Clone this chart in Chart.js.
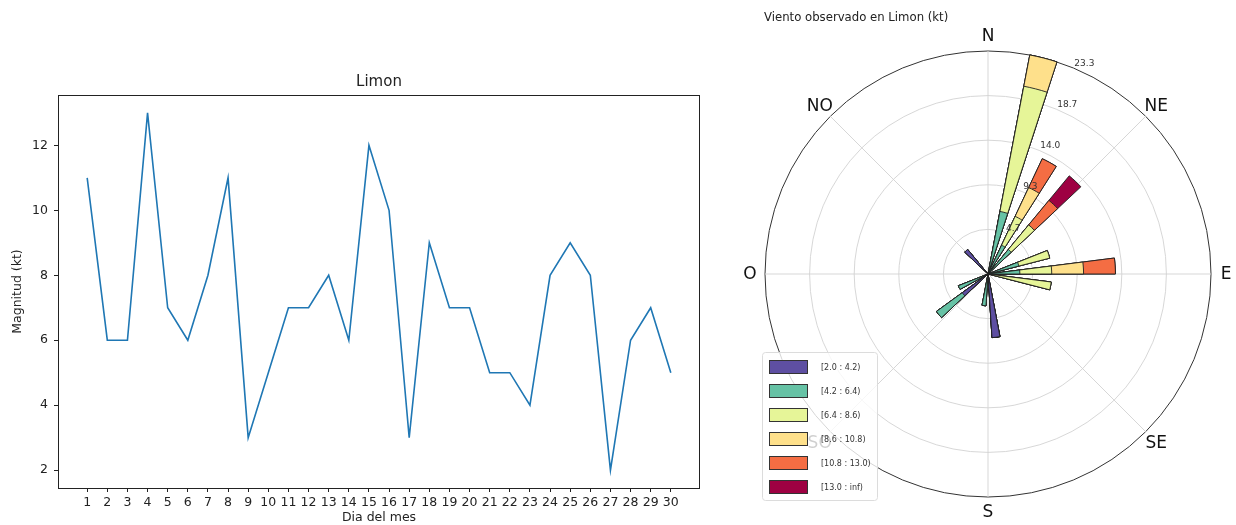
<!DOCTYPE html>
<html>
<head>
<meta charset="utf-8">
<script src="https://cdn.jsdelivr.net/npm/chart.js@4.4.0/dist/chart.umd.min.js"></script>
<style>
  body { margin: 0; background: #fff; }
  #wrap { position: relative; width: 1236px; height: 525px; }
  #lineChart { position: absolute; left: 0; top: 0; }
  #roseChart { position: absolute; left: 740px; top: 0; }
</style>
</head>
<body>
<div id="wrap">
  <canvas id="lineChart" width="740" height="525"></canvas>
  <canvas id="roseChart" width="496" height="525"></canvas>
</div>
<script>
// --- serie diaria (izquierda)
const days = [1,2,3,4,5,6,7,8,9,10,11,12,13,14,15,16,17,18,19,20,21,22,23,24,25,26,27,28,29,30];
const magnitud = [11,6,6,13,7,6,8,11,3,5,7,7,8,6,12,10,3,9,7,7,5,5,4,8,9,8,2,6,7,5];
const yTicks = [2,4,6,8,10,12];

// --- rosa de viento (derecha): dias por sector de direccion y por clase de velocidad
const nSectors = 25;
const speedBins = ['[2.0 : 4.2)', '[4.2 : 6.4)', '[6.4 : 8.6)', '[8.6 : 10.8)', '[10.8 : 13.0)', '[13.0 : inf)'];
const binColors = ['#5e4fa2', '#66c2a5', '#e6f598', '#fee08b', '#f46d43', '#9e0142'];
//  sector:    0 1 2 3 4 5 6 7 8 9 0 1 2 3 4 5 6 7 8 9 0 1 2 3 4
const bin1 = [0,0,0,0,0,0,0,0,0,0,0,0,2,0,0,0,1,0,0,0,0,0,1,0,0];
const bin2 = [0,2,1,1,0,1,1,0,0,0,0,0,0,1,0,0,1,1,0,0,0,0,0,0,0];
const bin3 = [0,4,1,1,0,1,1,2,0,0,0,0,0,0,0,0,0,0,0,0,0,0,0,0,0];
const bin4 = [0,1,1,0,0,0,1,0,0,0,0,0,0,0,0,0,0,0,0,0,0,0,0,0,0];
const bin5 = [0,0,1,1,0,0,1,0,0,0,0,0,0,0,0,0,0,0,0,0,0,0,0,0,0];
const bin6 = [0,0,0,1,0,0,0,0,0,0,0,0,0,0,0,0,0,0,0,0,0,0,0,0,0];
const compassLabels = ['N', 'NE', 'E', 'SE', 'S', 'SO', 'O', 'NO'];

const FONT = 'DejaVu Sans';

// ---------------- line chart
const framePlugin = {
  id: 'frame',
  afterDraw(chart) {
    const a = chart.chartArea, ctx = chart.ctx;
    ctx.save();
    ctx.strokeStyle = '#222';
    ctx.lineWidth = 1;
    ctx.strokeRect(Math.round(a.left) + 0.5, Math.round(a.top) + 0.5,
      Math.round(a.right - a.left) - 1, Math.round(a.bottom - a.top));
    ctx.restore();
  }
};

new Chart(document.getElementById('lineChart'), {
  type: 'line',
  data: {
    datasets: [{
      data: days.map((d, i) => ({ x: d, y: magnitud[i] })),
      borderColor: '#1f77b4',
      borderWidth: 1.6,
      pointRadius: 0,
      tension: 0,
      fill: false
    }]
  },
  options: {
    responsive: false,
    animation: false,
    devicePixelRatio: 1,
    layout: { padding: { left: 0, right: 40, top: 0, bottom: 0 } },
    plugins: {
      legend: { display: false },
      tooltip: { enabled: false },
      title: {
        display: true, text: 'Limon', fullSize: false, color: '#222',
        font: { family: FONT, size: 15, weight: 'normal' },
        padding: { top: 73, bottom: 4 }
      }
    },
    scales: {
      x: {
        type: 'linear', min: -0.45, max: 31.45,
        afterBuildTicks: s => { s.ticks = days.map(d => ({ value: d })); },
        afterFit: s => { s.height = 37; },
        grid: { drawOnChartArea: false, drawTicks: true, tickLength: 4, color: '#222' },
        border: { display: false },
        ticks: { autoSkip: false, maxRotation: 0, padding: 3, color: '#222', font: { family: FONT, size: 12.5 } },
        title: { display: true, text: 'Dia del mes', color: '#222', font: { family: FONT, size: 12.5 }, padding: { top: 0, bottom: 0 } }
      },
      y: {
        type: 'linear', min: 1.45, max: 13.55,
        afterBuildTicks: s => { s.ticks = yTicks.map(v => ({ value: v })); },
        afterFit: s => { s.width = 58; },
        grid: { drawOnChartArea: false, drawTicks: true, tickLength: 4, color: '#222' },
        border: { display: false },
        ticks: { padding: 6, color: '#222', font: { family: FONT, size: 12.5 } },
        title: { display: true, text: 'Magnitud (kt)', color: '#222', font: { family: FONT, size: 12.5 }, padding: { top: 10.5, bottom: 0 } }
      }
    }
  },
  plugins: [framePlugin]
});

// ---------------- wind rose
const bins = [bin1, bin2, bin3, bin4, bin5, bin6];
const totalObs = bins.reduce((s, b) => s + b.reduce((a, v) => a + v, 0), 0);
const cumulative = [];
bins.forEach((b, j) => {
  cumulative.push(b.map((v, k) => v * 100 / totalObs + (j > 0 ? cumulative[j - 1][k] : 0)));
});
const rMax = Math.max(...cumulative[cumulative.length - 1]);
const sectorAngle = 360 / nSectors;

// each sector = one bar slice + one empty gap slice (bar opening 0.5)
const sliceLabels = [];
for (let k = 0; k < nSectors * 2; k++) sliceLabels.push('');

// datasets drawn last-index first, so the smallest cumulative ends on top
const roseDatasets = cumulative.map((cum, j) => ({
  label: speedBins[j],
  data: sliceLabels.map((_, i) => (i % 2 === 0 ? cum[i / 2] : 0)),
  backgroundColor: binColors[j],
  borderColor: '#1e1e1e',
  borderWidth: ctx => (ctx.raw > 0 ? 0.9 : 0)
}));

const rosePlugin = {
  id: 'rose',
  beforeDatasetsDraw(chart) {
    const s = chart.scales.r, ctx = chart.ctx;
    ctx.save();
    ctx.strokeStyle = '#d2d2d2';
    ctx.lineWidth = 0.9;
    for (let i = 0; i < 8; i++) {
      const a = i * Math.PI / 4;
      ctx.beginPath();
      ctx.moveTo(s.xCenter, s.yCenter);
      ctx.lineTo(s.xCenter + s.drawingArea * Math.sin(a), s.yCenter - s.drawingArea * Math.cos(a));
      ctx.stroke();
    }
    ctx.restore();
  },
  afterDatasetsDraw(chart) {
    const s = chart.scales.r, ctx = chart.ctx;
    ctx.save();
    // radial tick labels along 22.5 deg
    const la = 22.5 * Math.PI / 180;
    ctx.font = '9px "' + FONT + '"';
    ctx.fillStyle = '#333';
    ctx.textAlign = 'left';
    ctx.textBaseline = 'bottom';
    s.ticks.forEach((t, i) => {
      if (i === 0) return;
      const r = s.getDistanceFromCenterForValue(t.value);
      ctx.fillText(t.value.toFixed(1), s.xCenter + r * Math.sin(la) + 1, s.yCenter - r * Math.cos(la));
    });
    // compass labels
    ctx.font = '17px "' + FONT + '"';
    ctx.fillStyle = '#111';
    ctx.textAlign = 'center';
    ctx.textBaseline = 'middle';
    compassLabels.forEach((lab, i) => {
      const a = i * Math.PI / 4;
      const r = s.drawingArea + 15;
      ctx.fillText(lab, s.xCenter + r * Math.sin(a), s.yCenter - r * Math.cos(a) + 1);
    });
    ctx.restore();
  },
  afterDraw(chart) {
    const ctx = chart.ctx;
    const x0 = 22, y0 = 352, w = 115, h = 148;
    ctx.save();
    ctx.fillStyle = 'rgba(255,255,255,0.8)';
    ctx.strokeStyle = '#dcdcdc';
    ctx.lineWidth = 1;
    ctx.beginPath();
    ctx.roundRect(x0 + 0.5, y0 + 0.5, w, h, 3);
    ctx.fill();
    ctx.stroke();
    ctx.font = '8px "' + FONT + '"';
    ctx.textAlign = 'left';
    ctx.textBaseline = 'middle';
    chart.data.datasets.forEach((ds, j) => {
      const cy = 367 + j * 24;
      ctx.fillStyle = ds.backgroundColor;
      ctx.fillRect(29, cy - 6.5, 39, 13);
      ctx.strokeStyle = '#333';
      ctx.strokeRect(29.5, cy - 6.5, 38, 13);
      ctx.fillStyle = '#333';
      ctx.fillText(ds.label, 81, cy + 0.5);
    });
    ctx.restore();
  }
};

new Chart(document.getElementById('roseChart'), {
  type: 'polarArea',
  data: { labels: sliceLabels, datasets: roseDatasets },
  options: {
    responsive: false,
    animation: false,
    devicePixelRatio: 1,
    layout: { padding: { left: 24, right: 24, top: 0, bottom: 27 } },
    plugins: {
      legend: { display: false },
      tooltip: { enabled: false },
      title: {
        display: true, text: 'Viento observado en Limon (kt)', align: 'start', color: '#222',
        font: { family: FONT, size: 11.7, weight: 'normal' },
        padding: { top: 11, bottom: 25 }
      }
    },
    scales: {
      r: {
        min: 0, max: rMax,
        startAngle: -sectorAngle / 4,
        afterBuildTicks: s => { s.ticks = [0, 1, 2, 3, 4, 5].map(i => ({ value: rMax * i / 5 })); },
        ticks: { display: false },
        angleLines: { display: false },
        pointLabels: { display: false },
        grid: {
          circular: true,
          color: c => (c.index === 5 ? '#333' : '#d2d2d2'),
          lineWidth: c => (c.index === 5 ? 1 : 0.9)
        }
      }
    }
  },
  plugins: [rosePlugin]
});
</script>
</body>
</html>
